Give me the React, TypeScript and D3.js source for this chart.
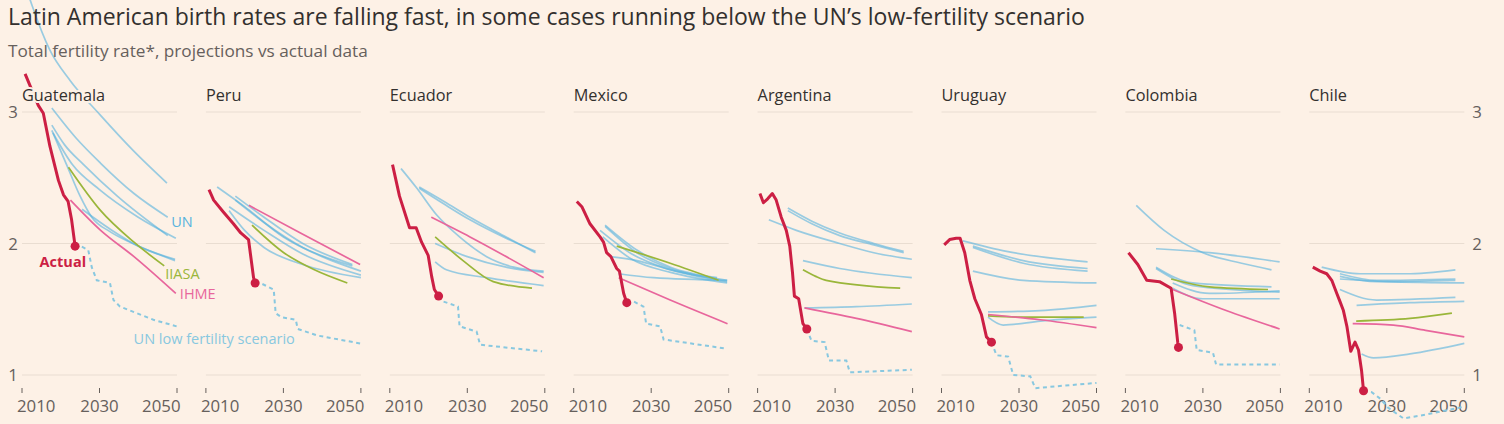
import React from 'react';
import * as d3 from 'd3';

type Pt = [number, number];

const countries = ['Guatemala', 'Peru', 'Ecuador', 'Mexico', 'Argentina', 'Uruguay', 'Colombia', 'Chile'];
const xTicks = [2010, 2030, 2050];
const yTicks = [1, 2, 3];

// actual total fertility rate, [year, tfr]
const actual: Pt[][] = [
  [[2010.8, 3.29], [2014.2, 3.05], [2015.5, 2.99], [2017.2, 2.74], [2019.4, 2.48], [2020.7, 2.37], [2021.9, 2.32], [2022.8, 2.18], [2023.7, 1.98]],
  [[2010.8, 2.41], [2012, 2.33], [2014.5, 2.24], [2017.1, 2.15], [2019, 2.08], [2021, 2.03], [2022.3, 1.74], [2022.7, 1.7]],
  [[2010.7, 2.6], [2012.5, 2.36], [2015.1, 2.12], [2016.8, 2.12], [2018.2, 2.01], [2019.9, 1.91], [2020.8, 1.75], [2021.5, 1.65], [2022.6, 1.6]],
  [[2010.8, 2.32], [2012.1, 2.28], [2014.2, 2.15], [2016.8, 2.05], [2017.7, 2.01], [2018.5, 1.93], [2019.6, 1.9], [2021.1, 1.81], [2021.8, 1.79], [2022.9, 1.62], [2023.7, 1.55]],
  [[2010.6, 2.38], [2011.5, 2.31], [2012.6, 2.34], [2013.8, 2.38], [2014.8, 2.33], [2016.1, 2.2], [2017.4, 2.1], [2018.3, 1.98], [2019, 1.78], [2019.5, 1.6], [2020.6, 1.58], [2021.7, 1.39], [2022.7, 1.35]],
  [[2010.7, 1.99], [2012.1, 2.03], [2013.8, 2.04], [2014.8, 2.04], [2016, 1.93], [2017.3, 1.72], [2018.6, 1.58], [2020.3, 1.46], [2021.6, 1.29], [2022.9, 1.25]],
  [[2010.8, 1.93], [2013.2, 1.84], [2015.5, 1.72], [2018.8, 1.71], [2021.8, 1.66], [2022.7, 1.47], [2023.5, 1.25], [2023.7, 1.21]],
  [[2010.9, 1.82], [2012.8, 1.79], [2014.5, 1.77], [2015.8, 1.72], [2017.1, 1.62], [2017.9, 1.56], [2018.8, 1.49], [2019.7, 1.37], [2020.7, 1.18], [2021.8, 1.25], [2022.7, 1.19], [2023.5, 1.03], [2024, 0.88]],
];

// successive UN World Population Prospects projections
const unProjections: Pt[][][] = [
  [
    [[2011, 3.95], [2012.6, 3.81], [2017.2, 3.47], [2022.4, 3.24], [2030.1, 2.98], [2038.6, 2.71], [2047.4, 2.46]],
    [[2017.7, 3.03], [2024, 2.8], [2030.3, 2.61], [2038.9, 2.38], [2047.6, 2.2]],
    [[2017.7, 2.9], [2021, 2.75], [2025.9, 2.6], [2034.6, 2.36], [2047.6, 2.06]],
    [[2018, 2.84], [2023, 2.6], [2030, 2.41], [2040, 2.2], [2049.7, 2.04]],
    [[2017.7, 2.86], [2021.5, 2.6], [2025, 2.36], [2028, 2.2], [2032.7, 2.09], [2038.6, 2.0], [2049.5, 1.87]],
    [[2025.5, 2.26], [2032.7, 2.11], [2040, 1.98], [2049.5, 1.88]],
  ],
  [
    [[2012.9, 2.43], [2020, 2.28], [2030, 2.05], [2040, 1.9], [2050, 1.79]],
    [[2017.6, 2.36], [2025, 2.2], [2035, 2.0], [2047.8, 1.84]],
    [[2017.6, 2.33], [2025, 2.16], [2035, 1.97], [2047.8, 1.83]],
    [[2016, 2.28], [2025, 2.1], [2035, 1.92], [2050, 1.76]],
    [[2016, 2.25], [2020, 2.1], [2025, 1.97], [2035, 1.84], [2050, 1.74]],
  ],
  [
    [[2012.9, 2.57], [2017, 2.42], [2022, 2.22], [2028, 2.05], [2035, 1.9], [2042, 1.82], [2049.7, 1.79]],
    [[2017.6, 2.43], [2024, 2.32], [2030.7, 2.2], [2040, 2.05], [2047.6, 1.93]],
    [[2017.6, 2.42], [2024, 2.3], [2030.7, 2.18], [2040, 2.04], [2047.6, 1.94]],
    [[2021.7, 2.0], [2030, 1.9], [2040, 1.82], [2049.7, 1.78]],
    [[2021.7, 1.86], [2024.6, 1.8], [2035, 1.74], [2049.7, 1.68]],
  ],
  [
    [[2018.1, 2.14], [2026.3, 1.95], [2035, 1.82], [2047, 1.74]],
    [[2018.1, 2.13], [2026.3, 1.93], [2035, 1.81], [2047, 1.73]],
    [[2016.8, 2.1], [2025, 1.92], [2035, 1.8], [2049.6, 1.71]],
    [[2017.5, 2.05], [2025, 1.88], [2035, 1.78], [2049.6, 1.7]],
    [[2019.4, 1.9], [2026.3, 1.87], [2035, 1.8], [2049.6, 1.72]],
    [[2021.6, 1.77], [2030.6, 1.74], [2049.6, 1.72]],
  ],
  [
    [[2017.8, 2.27], [2024, 2.17], [2031.2, 2.08], [2040, 2.0], [2047.7, 1.94]],
    [[2017.8, 2.25], [2024, 2.15], [2031.2, 2.06], [2040, 1.99], [2047.7, 1.93]],
    [[2012.9, 2.18], [2020, 2.1], [2031.2, 2.0], [2040, 1.93], [2049.8, 1.88]],
    [[2021.7, 1.87], [2031.2, 1.81], [2049.8, 1.74]],
    [[2022.1, 1.51], [2035.5, 1.52], [2049.8, 1.54]],
  ],
  [
    [[2015.5, 2.02], [2026.8, 1.94], [2047.7, 1.86]],
    [[2018.1, 1.98], [2031.1, 1.87], [2047.7, 1.81]],
    [[2018.1, 1.97], [2031.1, 1.85], [2047.7, 1.79]],
    [[2018.1, 1.79], [2031.1, 1.72], [2050, 1.7]],
    [[2022, 1.48], [2035.5, 1.49], [2050, 1.53]],
    [[2022, 1.44], [2025.9, 1.38], [2035.5, 1.41], [2050, 1.44]],
  ],
  [
    [[2012.8, 2.29], [2020, 2.1], [2030, 1.93], [2040, 1.85], [2047.7, 1.8]],
    [[2017.9, 1.96], [2031.7, 1.93], [2049.8, 1.86]],
    [[2017.9, 1.82], [2027.4, 1.7], [2047.7, 1.67]],
    [[2017.9, 1.81], [2027.4, 1.68], [2049.8, 1.63]],
    [[2022.2, 1.7], [2031.7, 1.62], [2049.8, 1.64]],
    [[2022.2, 1.66], [2030, 1.58], [2049.8, 1.58]],
  ],
  [
    [[2013.2, 1.82], [2023.1, 1.77], [2035, 1.77], [2047.7, 1.8]],
    [[2017.9, 1.77], [2027.4, 1.72], [2047.7, 1.73]],
    [[2017.9, 1.75], [2027.4, 1.71], [2047.7, 1.72]],
    [[2017.9, 1.73], [2030, 1.71], [2050, 1.7]],
    [[2017.9, 1.65], [2027.4, 1.57], [2047.7, 1.59]],
    [[2022.2, 1.53], [2036, 1.55], [2050, 1.56]],
    [[2023.5, 1.16], [2026.6, 1.13], [2036, 1.16], [2050, 1.24]],
  ],
];

const iiasa: Pt[][] = [
  [[2022, 2.58], [2030.3, 2.25], [2038.9, 2.01], [2046.7, 1.83]],
  [[2021.9, 2.14], [2030.1, 1.93], [2038, 1.8], [2046.5, 1.7]],
  [[2021.7, 2.05], [2028.9, 1.87], [2036.7, 1.71], [2046.7, 1.66]],
  [[2021.1, 1.98], [2034.9, 1.85], [2047.4, 1.72]],
  [[2021.7, 1.8], [2025, 1.75], [2027.7, 1.72], [2046.8, 1.66]],
  [[2022, 1.45], [2031.1, 1.44], [2046.7, 1.44]],
  [[2021.8, 1.73], [2031.7, 1.67], [2046.8, 1.65]],
  [[2022.1, 1.41], [2036, 1.43], [2046.8, 1.47]],
];

const ihme: Pt[][] = [
  [[2022.5, 2.33], [2030.3, 2.1], [2038.9, 1.9], [2049.7, 1.62]],
  [[2021.1, 2.29], [2034.4, 2.08], [2049.8, 1.84]],
  [[2020.7, 2.2], [2030.7, 2.05], [2049.7, 1.74]],
  [[2021.6, 1.74], [2034.9, 1.57], [2049.7, 1.39]],
  [[2022.1, 1.51], [2035.5, 1.43], [2049.8, 1.33]],
  [[2022, 1.46], [2035.5, 1.42], [2050, 1.36]],
  [[2022.2, 1.65], [2036, 1.49], [2049.8, 1.35]],
  [[2021.2, 1.39], [2031.7, 1.38], [2040, 1.34], [2050, 1.29]],
];

const unLow: Pt[][] = [
  [[2023.7, 1.98], [2024.5, 1.99], [2027.1, 1.95], [2028, 1.82], [2029.3, 1.72], [2032.7, 1.7], [2033.6, 1.57], [2035.3, 1.52], [2043.9, 1.42], [2049.9, 1.37]],
  [[2022.7, 1.7], [2024, 1.7], [2027.5, 1.65], [2028, 1.47], [2029.5, 1.44], [2033.2, 1.42], [2033.7, 1.35], [2038.8, 1.3], [2049.8, 1.24]],
  [[2022.6, 1.6], [2023.7, 1.56], [2027.6, 1.52], [2028, 1.37], [2032.4, 1.33], [2033.3, 1.23], [2049.3, 1.18]],
  [[2023.7, 1.55], [2025.4, 1.56], [2028, 1.52], [2028.7, 1.39], [2032.3, 1.37], [2033.2, 1.27], [2049.6, 1.2]],
  [[2022.7, 1.35], [2023.9, 1.26], [2027.3, 1.25], [2028.4, 1.11], [2032.9, 1.11], [2033.8, 1.02], [2049.8, 1.04]],
  [[2022.9, 1.25], [2024.2, 1.15], [2027.2, 1.14], [2028.5, 1.0], [2032.9, 0.99], [2034.2, 0.9], [2050, 0.94]],
  [[2024, 1.38], [2027.8, 1.34], [2028.4, 1.19], [2032.6, 1.17], [2033.4, 1.08], [2049.8, 1.08]],
  [[2024, 0.88], [2026.1, 0.87], [2028.3, 0.82], [2030.4, 0.75], [2034.3, 0.67], [2040.3, 0.7], [2050, 0.76]],
];

const W = 1504;
const H = 424;
const BG = '#fdf1e6';
const RED = '#cc1f44';
const BLUE = '#57b3de';
const LOWBLUE = '#88c8e0';
const GREEN = '#9ab63a';
const PINK = '#e8669c';
const GRID = '#e9ddd1';
const INK = '#33302e';
const MUTED = '#66605c';
const FONT = '"Open Sans", "Noto Sans", sans-serif';

const panelLeft = 22;
const panelStep = 183.9;
const panelWidth = 155;

const y = d3.scaleLinear().domain([1, 3]).range([375, 112]);

const halo = { stroke: BG, strokeWidth: 4, paintOrder: 'stroke' as const, strokeLinejoin: 'round' as const };

// first tick label hangs right of its tick, last one left of it
const tickAnchor = (t: number) => (t === xTicks[0] ? 'start' : t === xTicks[xTicks.length - 1] ? 'end' : 'middle');
const tickShift = (t: number) => (t === xTicks[0] ? -5 : t === xTicks[xTicks.length - 1] ? 3.5 : 0);

const App: React.FC = () => {
  return (
    <svg
      width={W}
      height={H}
      viewBox={`0 0 ${W} ${H}`}
      style={{ position: 'absolute', left: 0, top: 0, fontFamily: FONT }}
    >
      <rect width={W} height={H} fill={BG} />

      {countries.map((name, i) => {
        const x0 = panelLeft + i * panelStep;
        const x = d3.scaleLinear().domain([2010, 2050]).range([x0, x0 + panelWidth]);
        const smooth = d3.line<Pt>().x(d => x(d[0])).y(d => y(d[1])).curve(d3.curveMonotoneX);
        const straight = d3.line<Pt>().x(d => x(d[0])).y(d => y(d[1]));
        const last = actual[i][actual[i].length - 1];

        return (
          <g key={name}>
            {yTicks.map(t => (
              <line key={t} x1={x(2010)} x2={x(2050)} y1={y(t)} y2={y(t)} stroke={GRID} strokeWidth={1.2} />
            ))}
            {xTicks.map(t => (
              <g key={t}>
                <line x1={x(t)} x2={x(t)} y1={388} y2={393} stroke={MUTED} strokeWidth={1} />
                <text x={x(t) + tickShift(t)} y={412} textAnchor={tickAnchor(t)} fontSize={16.8} fill={MUTED}>{t}</text>
              </g>
            ))}

            {unProjections[i].map((s, j) => (
              <path key={j} d={smooth(s) || ''} fill="none" stroke={BLUE} strokeOpacity={0.6} strokeWidth={1.7} />
            ))}
            <path d={smooth(iiasa[i]) || ''} fill="none" stroke={GREEN} strokeWidth={1.7} />
            <path d={smooth(ihme[i]) || ''} fill="none" stroke={PINK} strokeWidth={1.7} />
            <path d={straight(unLow[i]) || ''} fill="none" stroke={LOWBLUE} strokeWidth={2} strokeDasharray="4 3.5" />
            <path d={straight(actual[i]) || ''} fill="none" stroke={RED} strokeWidth={3} strokeLinejoin="round" />
            <circle cx={x(last[0])} cy={y(last[1])} r={4.5} fill={RED} />

            <text x={x0} y={101} fontSize={16.3} fill={INK} style={halo}>{name}</text>

            {i === 0 && (
              <g fontSize={14.5}>
                <text x={x(2048.5)} y={y(2.2) + 10} fill={BLUE} style={halo}>UN</text>
                <text x={x(last[0]) + 11} y={y(last[1]) + 21} textAnchor="end" fontWeight="bold" fill={RED} style={halo}>Actual</text>
                <text x={x(iiasa[0][iiasa[0].length - 1][0]) + 1} y={y(iiasa[0][iiasa[0].length - 1][1]) + 13} fill={GREEN} style={halo}>IIASA</text>
                <text x={x(ihme[0][ihme[0].length - 1][0]) + 4} y={y(ihme[0][ihme[0].length - 1][1]) + 6} fill={PINK} style={halo}>IHME</text>
                <text x={x(2038.8)} y={y(1.27) + 5} fill={LOWBLUE} style={halo}>UN low fertility scenario</text>
              </g>
            )}
          </g>
        );
      })}

      {yTicks.map(t => (
        <g key={t} fontSize={16.8} fill={MUTED}>
          <text x={13} y={y(t) + 6} textAnchor="middle">{t}</text>
          <text x={1477} y={y(t) + 6} textAnchor="middle">{t}</text>
        </g>
      ))}

      <text x={8} y={25} fontSize={23} fill={INK}>
        Latin American birth rates are falling fast, in some cases running below the UN’s low-fertility scenario
      </text>
      <text x={8} y={57} fontSize={17.2} fill={MUTED}>Total fertility rate*, projections vs actual data</text>
    </svg>
  );
};

export default App;
